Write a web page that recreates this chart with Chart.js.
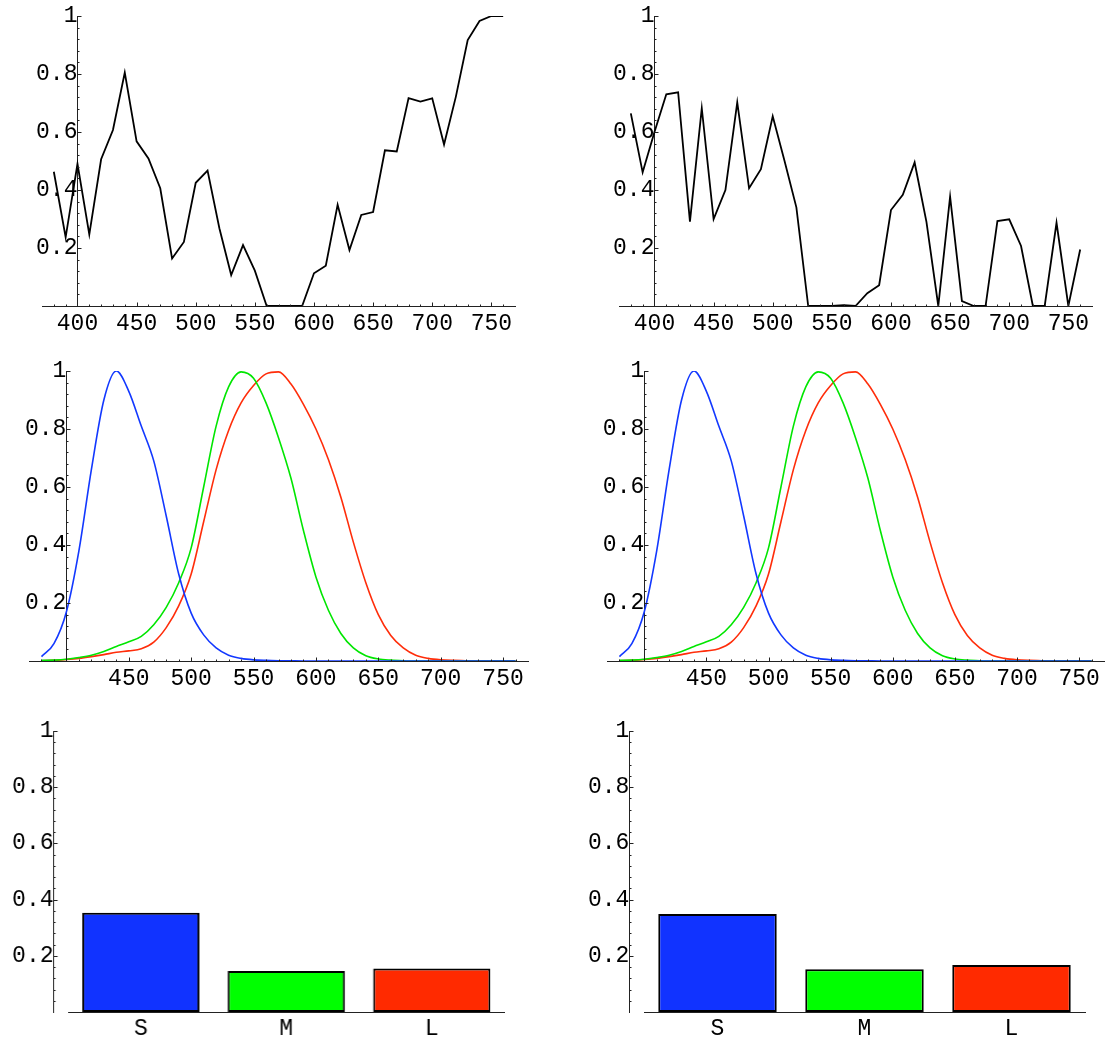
<!DOCTYPE html>
<html>
<head>
<meta charset="utf-8">
<script src="https://cdn.jsdelivr.net/npm/chart.js@4.4.1/dist/chart.umd.min.js"></script>
<style>
  html, body { margin: 0; padding: 0; background: #fff; }
  body { width: 1114px; height: 1040px; position: relative; overflow: hidden; }
  .panel { position: absolute; }
</style>
</head>
<body>
<script>
// wavelength samples (nm)
const WAVELENGTHS = [380,390,400,410,420,430,440,450,460,470,480,490,500,510,520,530,540,550,560,570,
  580,590,600,610,620,630,640,650,660,670,680,690,700,710,720,730,740,750,760];

// surface reflectances, left and right column
const REFLECT_A = [0.463,0.237,0.49,0.247,0.506,0.607,0.805,0.568,0.509,0.406,0.164,0.221,0.425,0.467,0.268,0.107,0.21,0.122,0,0,
  0,0,0.113,0.139,0.349,0.193,0.314,0.324,0.537,0.533,0.717,0.705,0.716,0.557,0.722,0.917,0.983,1,1];
const REFLECT_B = [0.664,0.461,0.6,0.73,0.737,0.291,0.682,0.3,0.4,0.702,0.406,0.472,0.654,0.5,0.34,0,0,0,0.003,0,
  0.044,0.072,0.331,0.383,0.495,0.29,0,0.377,0.017,0,0,0.293,0.299,0.207,0,0,0.287,0,0.195];

// cone sensitivities (normalised)
const CONE_S = [0.015,0.06,0.17,0.38,0.66,0.9,1,0.93,0.81,0.69,0.5,0.3,0.165,0.09,0.045,0.02,0.009,0.004,0.002,0.001,
  0.0005,0,0,0,0,0,0,0,0,0,0,0,0,0,0,0,0,0,0];
const CONE_M = [0.002,0.003,0.006,0.012,0.02,0.033,0.05,0.066,0.085,0.125,0.185,0.27,0.39,0.6,0.81,0.945,0.997,0.975,0.89,0.77,
  0.63,0.45,0.29,0.175,0.095,0.045,0.018,0.007,0.003,0.001,0,0,0,0,0,0,0,0,0];
const CONE_L = [0.001,0.002,0.005,0.009,0.015,0.022,0.03,0.035,0.042,0.065,0.115,0.19,0.3,0.48,0.66,0.795,0.89,0.95,0.99,0.997,
  0.955,0.885,0.8,0.695,0.565,0.41,0.27,0.16,0.088,0.045,0.02,0.009,0.004,0.002,0.001,0,0,0,0];

// cone responses
const CONE_LABELS = ['S','M','L'];
const RESPONSE_A = [0.353,0.146,0.155];
const RESPONSE_B = [0.349,0.152,0.167];

const X_TICKS_TOP = [400,450,500,550,600,650,700,750];
const X_TICKS_MID = [450,500,550,600,650,700,750];
const Y_TICKS = [0.2,0.4,0.6,0.8,1];

const BLUE = '#1238ff', GREEN = '#00e600', RED = '#ff2d0a';
const BAR_COLORS = ['#1133ff','#00ff00','#ff2a00'];
const AXIS = '#222';
const LABEL_BAND = 40; // height kept for x tick labels

Chart.defaults.font.family = "'Liberation Mono', 'Courier New', monospace";
Chart.defaults.font.size = 23;
Chart.defaults.color = '#000';
Chart.defaults.animation = false;

// small inward tick marks, Mathematica style
const mmaTicks = {
  id: 'mmaTicks',
  afterDraw(chart, args, opts) {
    const {ctx} = chart, xs = chart.scales.x, ys = chart.scales.y;
    const ax = Math.round(xs.getPixelForValue(opts.yAxisAt)) + 0.5;
    const ay = Math.round(ys.getPixelForValue(0)) + 0.5;
    ctx.save();
    ctx.strokeStyle = AXIS; ctx.lineWidth = 1;
    ctx.beginPath();
    if (opts.xMinor) {
      opts.xMinor.forEach(v => {
        const px = Math.round(xs.getPixelForValue(v)) + 0.5;
        const len = v % 50 === 0 ? 4 : 2;
        ctx.moveTo(px, ay); ctx.lineTo(px, ay - len);
      });
    }
    for (let i = 1; i <= 25; i++) {
      const py = Math.round(ys.getPixelForValue(i * 0.04)) + 0.5;
      const len = i % 5 === 0 ? 4 : 2;
      ctx.moveTo(ax, py); ctx.lineTo(ax + len, py);
    }
    ctx.stroke();
    ctx.restore();
  }
};

function flat(scale) {
  if (scale.isHorizontal()) scale.height = LABEL_BAND; else scale.width = 0;
  scale.paddingLeft = scale.paddingRight = scale.paddingTop = scale.paddingBottom = 0;
}

function panel(area, config) {
  const padL = Math.min(60, area.l), padT = 14, padR = 12;
  const div = document.createElement('div');
  div.className = 'panel';
  div.style.left = (area.l - padL) + 'px';
  div.style.top = (area.t - padT) + 'px';
  div.style.width = (area.r - area.l + padL + padR) + 'px';
  div.style.height = (area.b - area.t + padT + LABEL_BAND) + 'px';
  const cv = document.createElement('canvas');
  div.appendChild(cv);
  document.body.appendChild(div);
  const o = config.options;
  o.responsive = true; o.maintainAspectRatio = false;
  o.layout = { autoPadding: false, padding: { left: padL, top: padT, right: padR, bottom: 0 } };
  o.plugins = Object.assign({ legend: { display: false }, tooltip: { enabled: false } }, o.plugins);
  config.plugins = [mmaTicks];
  return new Chart(cv, config);
}

function yScale(at) {
  return {
    type: 'linear', position: { x: at }, min: 0, max: 1,
    afterFit: flat,
    afterBuildTicks: s => { s.ticks = Y_TICKS.map(v => ({ value: v })); },
    grid: { display: false, drawTicks: false },
    border: { display: true, color: AXIS, width: 1 },
    ticks: { padding: 5, callback: v => v === 1 ? '1' : v.toFixed(1) }
  };
}

function xScale(ticks) {
  return {
    type: 'linear', position: 'bottom', min: 370, max: 770,
    afterFit: flat,
    afterBuildTicks: s => { s.ticks = ticks.map(v => ({ value: v })); },
    grid: { display: false, drawTicks: false },
    border: { display: true, color: AXIS, width: 1 },
    ticks: { padding: 4, autoSkip: false, maxRotation: 0, callback: v => String(v) }
  };
}

const pts = arr => arr.map((v, i) => ({ x: WAVELENGTHS[i], y: v }));

function reflectChart(area, series) {
  return panel(area, {
    type: 'line',
    data: { datasets: [{ data: pts(series), borderColor: '#000', borderWidth: 1.8, pointRadius: 0, tension: 0, fill: false }] },
    options: {
      scales: { x: xScale(X_TICKS_TOP), y: yScale(400) },
      plugins: { mmaTicks: { yAxisAt: 400, xMinor: WAVELENGTHS } }
    }
  });
}

function coneChart(area) {
  const ds = (arr, c) => ({ data: pts(arr), borderColor: c, borderWidth: 1.6, pointRadius: 0,
    cubicInterpolationMode: 'monotone', fill: false });
  return panel(area, {
    type: 'line',
    data: { datasets: [ds(CONE_S, BLUE), ds(CONE_M, GREEN), ds(CONE_L, RED)] },
    options: {
      scales: { x: xScale(X_TICKS_MID), y: yScale(400) },
      plugins: { mmaTicks: { yAxisAt: 400, xMinor: WAVELENGTHS } }
    }
  });
}

function responseChart(area, values) {
  return panel(area, {
    type: 'bar',
    data: { labels: CONE_LABELS, datasets: [{ data: values, backgroundColor: BAR_COLORS, borderColor: '#000',
      borderWidth: 2, borderSkipped: false, barPercentage: 0.806, categoryPercentage: 1 }] },
    options: {
      scales: {
        x: { type: 'category', position: 'bottom', afterFit: flat,
          grid: { display: false, drawTicks: false },
          border: { display: true, color: AXIS, width: 1 },
          ticks: { padding: 3, autoSkip: false, maxRotation: 0 } },
        y: yScale(-0.6)
      },
      plugins: { mmaTicks: { yAxisAt: -0.6 } }
    }
  });
}

reflectChart({ l: 42, t: 16, r: 515, b: 306 }, REFLECT_A);
reflectChart({ l: 619, t: 16, r: 1092, b: 306 }, REFLECT_B);
coneChart({ l: 29, t: 371, r: 528, b: 661 });
coneChart({ l: 607, t: 371, r: 1104, b: 661 });
responseChart({ l: 68, t: 731, r: 503.5, b: 1012 }, RESPONSE_A);
responseChart({ l: 644, t: 731, r: 1085, b: 1012 }, RESPONSE_B);
</script>
</body>
</html>
